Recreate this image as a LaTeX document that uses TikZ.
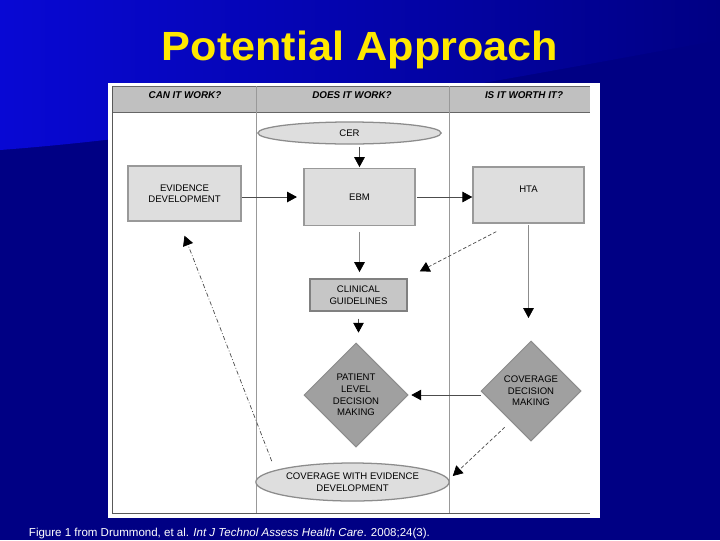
\documentclass[tikz,border=0pt]{standalone}
\usepackage{fontspec}
\setmainfont{Liberation Sans}
\usepackage{xcolor}
\usetikzlibrary{shapes.geometric, arrows.meta, positioning}
\definecolor{slidedark}{RGB}{0,0,132}
\definecolor{slidelight}{RGB}{8,8,212}
\definecolor{titleyellow}{RGB}{255,232,0}
\definecolor{boxgray}{RGB}{222,222,222}
\definecolor{guidegray}{RGB}{198,198,198}
\definecolor{diamondgray}{RGB}{160,160,160}
\definecolor{headgray}{RGB}{192,192,192}
\tikzset{
  lane/.style={font=\fontsize{7}{8}\selectfont\bfseries\itshape, inner sep=0pt},
  process/.style={rectangle, draw=black!40, line width=0.9pt, fill=boxgray, align=center, font=\fontsize{6.8}{8.2}\selectfont},
  guide/.style={process, draw=black!50, fill=guidegray},
  decision/.style={diamond, aspect=1, inner sep=1pt, draw=black!45, line width=0.7pt, fill=diamondgray, align=center, font=\fontsize{6.8}{8.2}\selectfont},
  oval/.style={ellipse, inner sep=0pt, draw=black!45, line width=0.9pt, fill=boxgray, align=center, font=\fontsize{6.8}{8.2}\selectfont},
  arrowline/.style={-{Triangle[length=7pt, width=7.5pt, black]}, draw=black!70, line width=0.5pt},
  softarrow/.style={arrowline, draw=black!45},
  dasharrow/.style={arrowline, dash pattern=on 2.5pt off 1.5pt},
  dotarrow/.style={arrowline, dash pattern=on 3pt off 1.5pt on 0.6pt off 1.5pt},
}
\begin{document}
\begin{tikzpicture}[x=0.025cm, y=-0.025cm]
\useasboundingbox (0,0) rectangle (720,540);
\fill[slidedark] (0,0) rectangle (720,540);
\shade[left color=slidelight, right color=slidedark] (0,0) -- (720,0) -- (720,40) .. controls (450,90) and (200,135) .. (0,150) -- cycle;
\node[anchor=base, text=titleyellow, font=\fontsize{29}{34}\selectfont\bfseries] (title) at (360,60) {\scalebox{1.06}[1]{Potential Approach}};
\fill[white] (108,83) rectangle (600,518);
\fill[headgray] (112,86) rectangle (590,112);
\draw[black!60] (112,86) -- (590,86) (112,112) -- (590,112);
\draw[black!65] (112,86) -- (112,513) -- (590,513);
\draw[black!40] (256,86) -- (256,513) (449,86) -- (449,513);
\node[lane] (can) at (185,95) {CAN IT WORK?};
\node[lane] (does) at (352,95) {DOES IT WORK?};
\node[lane] (worth) at (524,95) {IS IT WORTH IT?};

\node[oval, minimum width=4.58cm, minimum height=0.55cm] (cer) at (349.5,133) {CER};
\node[process, minimum width=2.83cm, minimum height=1.38cm] (evid) at (184.5,193.5) {EVIDENCE\\DEVELOPMENT};
\node[process, minimum width=2.78cm, minimum height=1.43cm] (ebm) at (359.5,197) {EBM};
\node[process, minimum width=2.78cm, minimum height=1.4cm] (hta) at (528.5,195) {HTA\\ ~};
\node[guide, minimum width=2.43cm, minimum height=0.8cm] (clin) at (358.5,295) {CLINICAL\\GUIDELINES};
\node[decision, minimum size=2.6cm] (pat) at (356,395) {PATIENT\\LEVEL\\DECISION\\MAKING};
\node[decision, minimum size=2.5cm] (cov) at (531,391) {COVERAGE\\DECISION\\MAKING};
\node[oval, minimum width=4.83cm, minimum height=0.95cm] (cwed) at (352.5,482) {COVERAGE WITH EVIDENCE\\DEVELOPMENT};
\node[anchor=base west, text=white, font=\fontsize{8.2}{10}\selectfont] (cite) at (24,536) {Figure 1 from Drummond, et al. \textit{Int J Technol Assess Health Care}. 2008;24(3).};

\draw[arrowline, shorten <=1.5pt, shorten >=0.5pt] (cer.south -| ebm.north) -- (ebm.north);
\draw[arrowline, shorten >=4.5pt] (evid.east |- ebm.west) -- (ebm.west);
\draw[arrowline, shorten <=1pt] (ebm.east) -- (ebm.east -| hta.west);
\draw[softarrow, shorten <=4pt, shorten >=4.5pt] (ebm.south) -- (ebm.south |- clin.north);
\draw[arrowline, shorten <=5pt, shorten >=7pt] (clin.south) -- (clin.south |- pat.north);
\draw[softarrow, shorten <=1pt, shorten >=16pt] (hta.south) -- (hta.south |- cov.north);
\draw[arrowline, shorten >=2pt] (pat.east -| cov.west) -- (pat.east);
\draw[dasharrow] ([shift={(24,8)}]hta.south west) -- ([shift={(12,-7)}]clin.north east);
\draw[dasharrow] ([shift={(-1,11)}]cov.south west) -- ([shift={(3,-6)}]cwed.east);
\draw[dotarrow] ([shift={(-12,-7)}]cwed.north west) -- ([shift={(0,14)}]evid.south);
\end{tikzpicture}
\end{document}
